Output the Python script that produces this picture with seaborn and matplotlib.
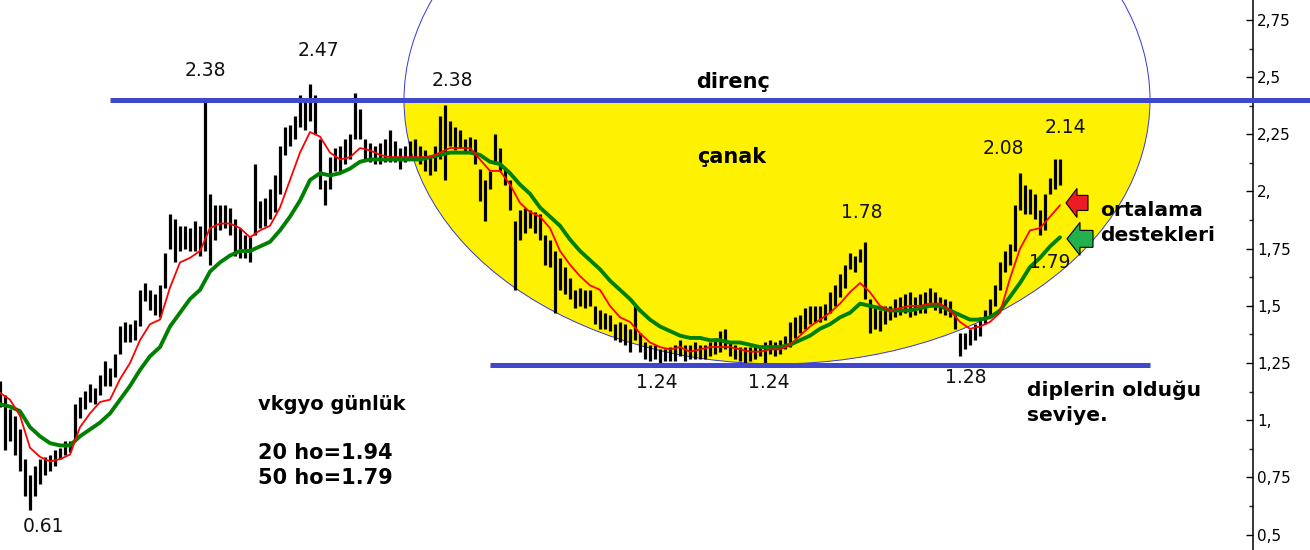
import numpy as np
import pandas as pd
import matplotlib
matplotlib.use("Agg")
import matplotlib.pyplot as plt
import seaborn as sns
from matplotlib.patches import Ellipse, Rectangle, FancyArrow
from matplotlib.ticker import FixedLocator, FixedFormatter, MultipleLocator

# ---------------- data ----------------
# daily bars (sampled), high / low prices
high = [
    1.17, 1.11, 1.05, 1.02, 0.96, 0.83, 0.76, 0.80, 0.83, 0.84,
    0.85, 0.87, 0.88, 0.91, 0.91, 1.07, 1.10, 1.13, 1.16, 1.14,
    1.20, 1.26, 1.23, 1.29, 1.41, 1.43, 1.42, 1.44, 1.57, 1.60,
    1.57, 1.55, 1.59, 1.73, 1.90, 1.88, 1.85, 1.85, 1.84, 1.87,
    1.85, 2.39, 1.99, 1.94, 1.94, 1.94, 1.93, 1.88, 1.84, 1.81,
    1.80, 2.12, 1.96, 1.97, 2.01, 2.07, 2.20, 2.28, 2.29, 2.33,
    2.42, 2.40, 2.47, 2.42, 2.23, 2.05, 2.15, 2.19, 2.20, 2.23,
    2.25, 2.43, 2.36, 2.23, 2.21, 2.20, 2.21, 2.23, 2.27, 2.22,
    2.19, 2.20, 2.22, 2.23, 2.20, 2.18, 2.15, 2.20, 2.33, 2.38,
    2.31, 2.28, 2.27, 2.23, 2.24, 2.23, 2.10, 2.05, 2.09, 2.25,
    2.19, 2.10, 2.05, 1.87, 1.92, 1.93, 1.92, 1.91, 1.90, 1.81,
    1.79, 1.74, 1.71, 1.67, 1.62, 1.57, 1.58, 1.57, 1.57, 1.50,
    1.48, 1.47, 1.46, 1.42, 1.43, 1.42, 1.40, 1.50, 1.38, 1.34,
    1.33, 1.33, 1.31, 1.31, 1.32, 1.33, 1.35, 1.33, 1.33, 1.34,
    1.33, 1.33, 1.34, 1.36, 1.39, 1.40, 1.34, 1.33, 1.32, 1.32,
    1.32, 1.33, 1.33, 1.34, 1.35, 1.34, 1.35, 1.37, 1.43, 1.45,
    1.46, 1.49, 1.50, 1.50, 1.50, 1.51, 1.56, 1.59, 1.64, 1.68,
    1.73, 1.72, 1.75, 1.78, 1.53, 1.50, 1.48, 1.50, 1.50, 1.53,
    1.54, 1.55, 1.56, 1.54, 1.55, 1.56, 1.58, 1.56, 1.54, 1.53,
    1.52, 1.46, 1.38, 1.38, 1.40, 1.42, 1.45, 1.48, 1.53, 1.59,
    1.69, 1.74, 1.77, 1.94, 2.08, 2.03, 2.01, 1.99, 1.92, 1.99,
    2.06, 2.14, 2.14,
]
low = [
    1.06, 0.87, 0.91, 0.85, 0.78, 0.67, 0.61, 0.67, 0.72, 0.76,
    0.78, 0.80, 0.83, 0.85, 0.86, 0.91, 1.01, 1.05, 1.08, 1.07,
    1.11, 1.15, 1.15, 1.19, 1.29, 1.34, 1.34, 1.35, 1.41, 1.52,
    1.48, 1.46, 1.45, 1.58, 1.75, 1.69, 1.74, 1.75, 1.74, 1.74,
    1.72, 1.74, 1.68, 1.79, 1.83, 1.84, 1.81, 1.72, 1.71, 1.71,
    1.69, 1.81, 1.84, 1.85, 1.88, 1.91, 1.99, 2.16, 2.20, 2.23,
    2.28, 2.27, 2.31, 2.25, 2.01, 1.94, 2.01, 2.09, 2.09, 2.12,
    2.14, 2.23, 2.23, 2.14, 2.13, 2.12, 2.12, 2.13, 2.13, 2.13,
    2.10, 2.13, 2.14, 2.14, 2.12, 2.09, 2.07, 2.09, 2.14, 2.05,
    2.20, 2.18, 2.19, 2.17, 2.17, 2.12, 1.96, 1.87, 2.01, 2.12,
    2.09, 2.03, 1.92, 1.57, 1.79, 1.82, 1.84, 1.82, 1.79, 1.68,
    1.67, 1.47, 1.57, 1.55, 1.53, 1.49, 1.50, 1.49, 1.50, 1.42,
    1.40, 1.40, 1.39, 1.35, 1.34, 1.33, 1.30, 1.35, 1.30, 1.27,
    1.26, 1.27, 1.24, 1.26, 1.26, 1.26, 1.28, 1.26, 1.27, 1.27,
    1.27, 1.27, 1.28, 1.29, 1.30, 1.31, 1.28, 1.27, 1.26, 1.25,
    1.26, 1.27, 1.28, 1.24, 1.29, 1.28, 1.29, 1.31, 1.32, 1.36,
    1.38, 1.40, 1.42, 1.43, 1.43, 1.44, 1.47, 1.50, 1.54, 1.58,
    1.66, 1.65, 1.69, 1.53, 1.38, 1.40, 1.39, 1.42, 1.44, 1.45,
    1.46, 1.47, 1.45, 1.46, 1.47, 1.47, 1.50, 1.48, 1.47, 1.46,
    1.45, 1.40, 1.28, 1.31, 1.33, 1.35, 1.37, 1.42, 1.45, 1.50,
    1.57, 1.65, 1.68, 1.74, 1.92, 1.90, 1.90, 1.88, 1.81, 1.83,
    1.99, 2.01, 2.03,
]
# moving averages (every second bar)
ma20 = [
    1.12, 1.09, 1.02, 0.88, 0.84, 0.82, 0.83, 0.85, 0.97, 1.03,
    1.08, 1.09, 1.18, 1.25, 1.35, 1.42, 1.44, 1.58, 1.69, 1.71,
    1.74, 1.84, 1.86, 1.86, 1.84, 1.80, 1.83, 1.85, 1.93, 2.05,
    2.17, 2.26, 2.24, 2.17, 2.14, 2.15, 2.19, 2.18, 2.16, 2.15,
    2.15, 2.15, 2.15, 2.15, 2.17, 2.19, 2.19, 2.19, 2.14, 2.09,
    2.09, 2.03, 1.95, 1.91, 1.89, 1.84, 1.74, 1.68, 1.63, 1.59,
    1.57, 1.50, 1.45, 1.43, 1.38, 1.34, 1.32, 1.31, 1.32, 1.30,
    1.31, 1.32, 1.32, 1.32, 1.31, 1.30, 1.30, 1.31, 1.31, 1.33,
    1.37, 1.41, 1.44, 1.47, 1.51, 1.56, 1.60, 1.56, 1.50, 1.48,
    1.49, 1.50, 1.50, 1.51, 1.51, 1.48, 1.43, 1.40, 1.41, 1.43,
    1.47, 1.62, 1.75, 1.83, 1.84, 1.89, 1.94,
]
ma50 = [
    1.07, 1.06, 1.04, 0.97, 0.93, 0.90, 0.89, 0.89, 0.93, 0.96,
    0.99, 1.03, 1.09, 1.15, 1.22, 1.28, 1.32, 1.41, 1.47, 1.53,
    1.57, 1.65, 1.69, 1.72, 1.74, 1.74, 1.76, 1.78, 1.83, 1.89,
    1.96, 2.05, 2.08, 2.07, 2.08, 2.10, 2.13, 2.14, 2.14, 2.14,
    2.14, 2.14, 2.14, 2.15, 2.16, 2.17, 2.17, 2.17, 2.16, 2.13,
    2.12, 2.08, 2.03, 1.99, 1.93, 1.89, 1.85, 1.79, 1.74, 1.70,
    1.66, 1.61, 1.57, 1.53, 1.48, 1.44, 1.41, 1.39, 1.37, 1.36,
    1.36, 1.35, 1.35, 1.34, 1.34, 1.33, 1.32, 1.32, 1.32, 1.33,
    1.35, 1.37, 1.40, 1.42, 1.45, 1.47, 1.51, 1.50, 1.49, 1.48,
    1.48, 1.48, 1.49, 1.50, 1.50, 1.48, 1.46, 1.44, 1.44, 1.45,
    1.48, 1.54, 1.60, 1.67, 1.71, 1.76, 1.80,
]
resistance = 2.40   # direnç
support = 1.24      # diplerin olduğu seviye
tick_values = [0.5, 0.75, 1.0, 1.25, 1.5, 1.75, 2.0, 2.25, 2.5, 2.75]
tick_labels = ["0,5", "0,75", "1,", "1,25", "1,5", "1,75", "2,", "2,25", "2,5", "2,75"]
price_notes = [("2.38", 41.0, 2.531), ("2.47", 63.6, 2.618), ("2.38", 90.4, 2.483),
               ("1.78", 172.4, 1.906), ("2.08", 200.6, 2.190), ("2.14", 213.0, 2.278),
               ("1.79", 210.0, 1.688), ("1.24", 131.4, 1.163), ("1.24", 153.8, 1.163),
               ("1.28", 193.2, 1.185), ("0.61", 8.8, 0.534)]

# ---------------- styling ----------------
sns.set_style("white")
plt.rcParams["font.family"] = ["DejaVu Sans"]

fig = plt.figure(figsize=(13.1, 5.5), dpi=100)
ax = fig.add_axes([0, 0, 1253 / 1310, 1])
ax.set_xlim(0, 250.6)
ax.set_ylim(0.433, 2.837)

bars = pd.DataFrame({"day": np.arange(len(high)), "high": high, "low": low})
ma = pd.DataFrame({"day": np.arange(len(ma20)) * 2, "ma20": ma20, "ma50": ma50})

# yellow bowl (lower half of the ellipse) and its outline
yellow = "#fff200"
bowl = Ellipse((155.4, resistance), 149.2, 2.307, facecolor=yellow, edgecolor="none", zorder=0)
ax.add_patch(bowl)
clip = Rectangle((0, 0), 300, resistance, transform=ax.transData)
bowl.set_clip_path(clip)
ax.add_patch(Ellipse((155.4, resistance), 149.2, 2.307, facecolor="none",
                     edgecolor="#3535d8", lw=0.7, zorder=1))

# price bars
ax.vlines(bars["day"], bars["low"], bars["high"], color="black", lw=2.3, zorder=2)

# moving averages
sns.lineplot(data=ma, x="day", y="ma50", ax=ax, color="#008000", lw=2.8,
             legend=False, zorder=3)
sns.lineplot(data=ma, x="day", y="ma20", ax=ax, color="#ff0000", lw=1.3,
             legend=False, zorder=4)

# resistance / support lines
blue = "#3f48cc"
ax.hlines(resistance, 22, 262, color=blue, lw=3.6, zorder=5, clip_on=False)
ax.hlines(support, 98, 230, color=blue, lw=3.6, zorder=5)

# arrows
ax.add_patch(FancyArrow(217.6, 1.950, -4.4, 0, width=0.066, head_width=0.127,
                        head_length=2.2, length_includes_head=True,
                        fc="#ed1c24", ec="black", lw=0.8, zorder=6))
ax.add_patch(FancyArrow(218.6, 1.793, -5.2, 0, width=0.074, head_width=0.144,
                        head_length=2.6, length_includes_head=True,
                        fc="#22b14c", ec="black", lw=0.8, zorder=6))

# texts
for txt, xx, yy in price_notes:
    ax.text(xx, yy, txt, fontsize=13.5, ha="center", va="center", color="#111111", zorder=7)

bold = dict(fontweight="bold", color="black", zorder=7, va="center")
ax.text(146.6, 2.479, "direnç", fontsize=15, ha="center", **bold)
ax.text(146.4, 2.151, "çanak", fontsize=15, ha="center", **bold)
ax.text(220.0, 1.915, "ortalama", fontsize=14.6, ha="left", **bold)
ax.text(220.0, 1.806, "destekleri", fontsize=14.6, ha="left", **bold)
ax.text(205.4, 1.133, "diplerin olduğu", fontsize=14.6, ha="left", **bold)
ax.text(205.4, 1.019, "seviye.", fontsize=14.6, ha="left", **bold)
ax.text(51.6, 1.067, "vkgyo günlük", fontsize=14, ha="left", **bold)
ax.text(51.6, 0.857, "20 ho=1.94", fontsize=15, ha="left", **bold)
ax.text(51.6, 0.748, "50 ho=1.79", fontsize=15, ha="left", **bold)

# axes
ax.set_xlabel("")
ax.set_ylabel("")
ax.set_xticks([])
for s in ["top", "left", "bottom"]:
    ax.spines[s].set_visible(False)
ax.spines["right"].set_visible(True)
ax.spines["right"].set_color("black")
ax.spines["right"].set_linewidth(1.1)
ax.yaxis.set_ticks_position("right")
ax.yaxis.set_major_locator(FixedLocator(tick_values))
ax.yaxis.set_major_formatter(FixedFormatter(tick_labels))
ax.yaxis.set_minor_locator(MultipleLocator(0.125))
ax.tick_params(axis="y", which="major", direction="in", length=5, width=1,
               labelsize=11, pad=3, colors="black", right=True, left=False)
ax.tick_params(axis="y", which="minor", direction="in", length=3, width=1,
               right=True, left=False)
ax.grid(False)

fig.savefig("out.png", dpi=100)
